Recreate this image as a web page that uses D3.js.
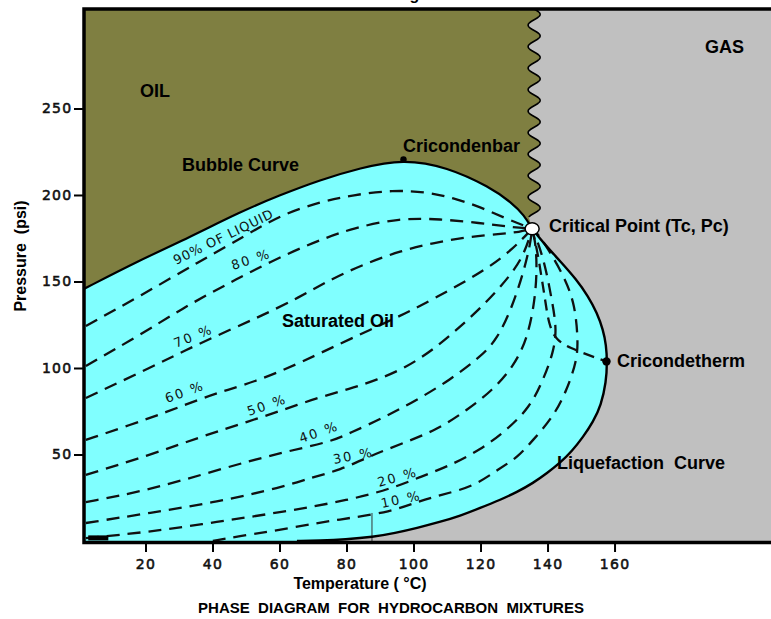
<!DOCTYPE html>
<html><head><meta charset="utf-8">
<script src="https://cdn.jsdelivr.net/npm/d3@7"></script>
<style>body{margin:0;background:#fff} text{white-space:pre}</style>
</head><body>
<svg id="chart" width="771" height="619"></svg>
<script>
// ---------------- data (Temperature °C, Pressure psi) ----------------
const xTicks = [20, 40, 60, 80, 100, 120, 140, 160];
const yTicks = [50, 100, 150, 200, 250];

const bubbleCurve = [[1.6,145.7],[18.4,162.4],[33.3,175.7],[48.2,190.2],[60.2,200.0],[72.1,208.7],[84.0,215.6],[96.9,220.8],[110.0,216.2],[122.8,204.6],[129.4,195.4],[133.0,188.4],[135.4,180.5]];
const dewCurve = [[135.4,180.5],[139.3,171.1],[144.0,161.3],[148.5,151.4],[152.1,141.6],[154.8,131.8],[156.6,122.0],[157.5,113.3],[157.8,103.5],[157.5,91.9],[156.0,78.6],[153.6,68.8],[150.6,60.1],[147.3,52.0],[143.7,45.1],[139.9,39.3],[135.7,33.5],[130.9,28.3],[125.8,23.7],[119.9,19.1],[113.9,14.5],[107.9,11.0],[101.0,7.5],[94.5,4.6],[87.9,2.3],[79.6,0.9],[72.1,0.3],[65.2,0]];

const q90 = [[2.2,124.3],[18.4,141.6],[36.3,161.8],[49.7,176.3],[60.2,188.4],[72.1,196.0],[81.9,200.0],[93.9,202.9],[104.0,201.7],[111.8,198.3],[119.9,193.1],[127.9,186.1],[135.4,180.5]];
const q80 = [[2.2,101.2],[18.4,119.1],[31.2,134.7],[42.2,146.2],[51.2,155.5],[62.2,165.9],[72.1,174.0],[81.9,180.9],[96.0,186.7],[107.9,186.1],[119.9,183.8],[128.8,181.5],[135.4,180.5]];
const q70 = [[2.2,82.7],[21.3,100.0],[36.3,114.5],[53.3,128.9],[66.1,141.0],[76.0,152.0],[86.1,160.7],[96.0,167.6],[105.8,172.3],[116.0,175.7],[125.8,177.5],[131.8,178.6],[135.4,180.5]];
const q60 = [[2.2,58.4],[15.4,67.1],[26.4,74.6],[36.3,82.1],[44.3,87.3],[54.2,93.1],[66.1,102.9],[81.0,116.8],[98.1,131.8],[110.9,145.1],[121.9,157.2],[129.7,168.8],[135.4,180.5]];
const q50 = [[2.2,38.2],[21.3,49.7],[36.3,60.1],[51.2,69.4],[61.0,75.7],[71.2,82.7],[81.0,87.9],[89.1,93.1],[97.5,100.0],[105.8,110.4],[113.9,123.7],[121.9,138.2],[128.8,153.2],[133.0,165.3],[135.4,180.5]];
const q40 = [[2.2,22.5],[21.3,29.5],[41.3,41.0],[61.0,51.4],[75.1,57.2],[81.0,62.4],[90.9,71.1],[101.0,81.5],[110.9,93.1],[119.9,106.4],[124.9,116.2],[129.7,136.4],[133.0,156.6],[134.8,171.1],[135.4,180.5]];
const q30 = [[2.2,10.4],[21.3,16.2],[41.3,22.5],[61.0,31.2],[69.1,36.4],[78.1,41.0],[87.0,49.1],[96.9,56.6],[107.0,64.2],[116.0,75.7],[123.7,87.3],[129.7,100.6],[133.9,116.2],[136.3,139.3],[136.9,159.5],[136.3,174.0],[135.4,180.5]];
const q20 = [[2.2,1.7],[21.3,5.2],[41.3,11.0],[61.0,16.8],[81.0,23.7],[93.9,30.6],[101.9,37.0],[110.0,42.8],[119.9,52.6],[127.9,64.2],[134.8,77.5],[138.7,93.1],[141.7,108.7],[142.8,122.0],[141.3,139.3],[139.3,159.5],[136.9,174.0],[135.4,180.5]];
const q10 = [[40.1,0],[48.2,2.9],[56.6,5.2],[71.2,10.4],[81.0,13.3],[93.0,16.8],[101.0,22.5],[107.9,26.6],[117.8,31.2],[125.8,42.2],[130.9,48.0],[135.7,58.4],[141.7,71.7],[145.8,87.3],[148.8,104.6],[149.1,116.2],[148.2,136.4],[145.2,152.0],[140.7,167.1],[137.2,177.5],[135.4,180.5]];
const critToTherm = [[135.4,180.5],[136.9,168.2],[138.1,153.8],[139.3,139.3],[140.4,124.9],[142.5,116.2],[146.7,111.6],[152.1,107.5],[157.6,103.8]];

const criticalPoint = [135.4, 180.5];
const cricondenbar = [97.0, 220.5];
const cricondentherm = [157.6, 103.8];
const waveBoundaryT = 136.0;      // oil / gas boundary temperature
const waveBoundaryFromP = 187;    // boundary starts just above the critical point
const thinLine = [[87.6, 0], [87.6, 16.2]];
const thickDash = [[2.9, 1.8], [8.9, 1.8]];

const qualityLines = [q90, q80, q70, q60, q50, q40, q30, q20, q10];
const qualityNames = ["90% OF LIQUID", "80 %", "70 %", "60 %", "50 %", "40 %", "30 %", "20 %", "10 %"];
const regionNames = ["OIL", "GAS", "Bubble Curve", "Cricondenbar", "Critical Point (Tc, Pc)", "Saturated Oil", "Cricondetherm", "Liquefaction  Curve"];
const xTitle = "Temperature ( °C)";
const yTitle = "Pressure  (psi)";
const chartTitle = "PHASE  DIAGRAM  FOR  HYDROCARBON  MIXTURES";
const topTitle = "Phase Diagram";

// ---------------- layout ----------------
const W = 771, H = 619;
const plot = {left: 84, top: 9, bottom: 541, right: 773};
const regionLayout = [[140,97],[705,53],[182,171],[403,152],[549,232],[282,327],[617,367],[557,469]];
const qualityLayout = [[176,265,-26],[233,270,-18],[176,348,-22],[167,403,-20],[249,416,-19],[301,443,-19],[334,464,-11],[379,487,-16],[382,508,-12]];
const COL = {olive: "#7f7f41", cyan: "#80ffff", gray: "#c0c0c0"};
const boldFont = "'Liberation Sans', Arial, sans-serif";

const svg = d3.select("#chart");
svg.append("rect").attr("width", W).attr("height", H).attr("fill", "#fff");

const x = d3.scaleLinear().domain([1.64, 207.3]).range([plot.left, plot.right]);
const y = d3.scaleLinear().domain([0, 307.5]).range([plot.bottom, plot.top]);
const line = d3.line().x(d => x(d[0])).y(d => y(d[1])).curve(d3.curveBasis);
const straight = d3.line().x(d => x(d[0])).y(d => y(d[1]));

svg.append("defs").append("clipPath").attr("id", "clip")
  .append("rect").attr("x", plot.left).attr("y", plot.top)
  .attr("width", plot.right - plot.left).attr("height", plot.bottom - plot.top + 2);

const g = svg.append("g").attr("clip-path", "url(#clip)");
g.append("rect").attr("x", plot.left).attr("y", plot.top)
  .attr("width", plot.right - plot.left).attr("height", plot.bottom - plot.top + 3)
  .attr("fill", COL.gray);

// wavy boundary (drawn as a wave style along a vertical line)
const xw = x(waveBoundaryT), yw0 = plot.top - 4, yw1 = y(waveBoundaryFromP);
const wavePts = [];
for (let yy = yw0; yy <= yw1; yy += 0.5) {
  wavePts.push([xw + 6 * Math.sin(2 * Math.PI * (yy - plot.top) / 21.5), yy]);
}
const waveD = "M" + wavePts.map(p => p[0].toFixed(2) + "," + p[1].toFixed(2)).join("L");

// olive region
const bubbleRevD = line(bubbleCurve.slice().reverse()).replace(/^M/, "L");
const cp = [x(criticalPoint[0]), y(criticalPoint[1])];
const oliveD = `M${plot.left - 3},${yw0}` + waveD.replace(/^M/, "L") + `L${cp[0]},${cp[1]}` + bubbleRevD + `L${plot.left - 3},${y(bubbleCurve[0][1])}Z`;
g.append("path").attr("d", oliveD).attr("fill", COL.olive);

// cyan two-phase region
const cyanD = line(bubbleCurve) + line(dewCurve).replace(/^M/, "L") +
  `L${x(dewCurve[dewCurve.length - 1][0])},${plot.bottom + 3}L${plot.left - 3},${plot.bottom + 3}L${plot.left - 3},${y(bubbleCurve[0][1])}Z`;
g.append("path").attr("d", cyanD).attr("fill", COL.cyan);

// thin vertical line
g.append("path").attr("d", straight(thinLine)).attr("stroke", "#333").attr("stroke-width", 1).attr("fill", "none");

// quality lines
g.selectAll("path.q").data(qualityLines).join("path").attr("class", "q")
  .attr("d", d => line(d)).attr("fill", "none").attr("stroke", "#111")
  .attr("stroke-width", 2.3).attr("stroke-dasharray", "13,8");
g.append("path").attr("d", line(critToTherm)).attr("fill", "none").attr("stroke", "#111")
  .attr("stroke-width", 2.3).attr("stroke-dasharray", "11,7");
g.append("path").attr("d", straight(thickDash)).attr("stroke", "#000").attr("stroke-width", 5);

// envelope curves
g.append("path").attr("d", line(bubbleCurve)).attr("fill", "none").attr("stroke", "#000").attr("stroke-width", 2.2);
g.append("path").attr("d", line(dewCurve)).attr("fill", "none").attr("stroke", "#000").attr("stroke-width", 2.4);
g.append("path").attr("d", waveD).attr("fill", "none").attr("stroke", "#000").attr("stroke-width", 1.6);

// markers
g.append("circle").attr("cx", x(cricondenbar[0])).attr("cy", y(cricondenbar[1])).attr("r", 3.2).attr("fill", "#000");
g.append("circle").attr("cx", x(cricondentherm[0])).attr("cy", y(cricondentherm[1])).attr("r", 4.2).attr("fill", "#000");
g.append("ellipse").attr("cx", cp[0]).attr("cy", cp[1]).attr("rx", 7).attr("ry", 6)
  .attr("fill", "#fff").attr("stroke", "#000").attr("stroke-width", 1.5);

// frame
svg.append("rect").attr("x", plot.left).attr("y", plot.top)
  .attr("width", plot.right - plot.left + 10).attr("height", plot.bottom - plot.top + 1.5)
  .attr("fill", "none").attr("stroke", "#000").attr("stroke-width", 3.5);

// axes
const tickFont = "'DejaVu Sans', sans-serif";
const xAxis = svg.append("g").attr("transform", `translate(0,${plot.bottom + 2})`)
  .call(d3.axisBottom(x).tickValues(xTicks).tickSize(9).tickPadding(7).tickFormat(d3.format("d")));
const yAxis = svg.append("g").attr("transform", `translate(${plot.left - 1},0)`)
  .call(d3.axisLeft(y).tickValues(yTicks).tickSize(9).tickPadding(1.5).tickFormat(d3.format("d")));
[xAxis, yAxis].forEach(a => {
  a.select(".domain").remove();
  a.selectAll(".tick line").attr("stroke", "#000").attr("stroke-width", 2);
  a.selectAll(".tick text").attr("fill", "#111").attr("font-family", tickFont)
    .attr("font-size", 14).attr("letter-spacing", "1.3px")
    .attr("stroke", "#111").attr("stroke-width", 0.55);
});

// axis titles
svg.append("text").attr("x", 360).attr("y", 589).attr("text-anchor", "middle")
  .attr("font-family", boldFont).attr("font-weight", "bold").attr("font-size", 16).text(xTitle);
svg.append("text").attr("transform", "translate(26,256) rotate(-90)").attr("text-anchor", "middle")
  .attr("font-family", boldFont).attr("font-weight", "bold").attr("font-size", 16).text(yTitle);
svg.append("text").attr("x", 391).attr("y", 613).attr("text-anchor", "middle")
  .attr("font-family", boldFont).attr("font-weight", "bold").attr("font-size", 15).text(chartTitle);
svg.append("text").attr("x", 333).attr("y", -0.5)
  .attr("font-family", boldFont).attr("font-weight", "bold").attr("font-size", 16).text(topTitle);

// region labels
svg.selectAll("text.region").data(regionNames).join("text").attr("class", "region")
  .attr("x", (d, i) => regionLayout[i][0]).attr("y", (d, i) => regionLayout[i][1])
  .attr("font-family", boldFont).attr("font-weight", "bold").attr("font-size", 18)
  .attr("fill", "#000").text(d => d);

// quality labels
svg.selectAll("text.ql").data(qualityNames).join("text").attr("class", "ql")
  .attr("transform", (d, i) => `translate(${qualityLayout[i][0]},${qualityLayout[i][1]}) rotate(${qualityLayout[i][2]})`)
  .attr("font-family", tickFont).attr("font-size", 13)
  .attr("letter-spacing", (d, i) => i === 0 ? "0.8px" : "2px")
  .attr("fill", "#111").text(d => d);
</script>
</body></html>
